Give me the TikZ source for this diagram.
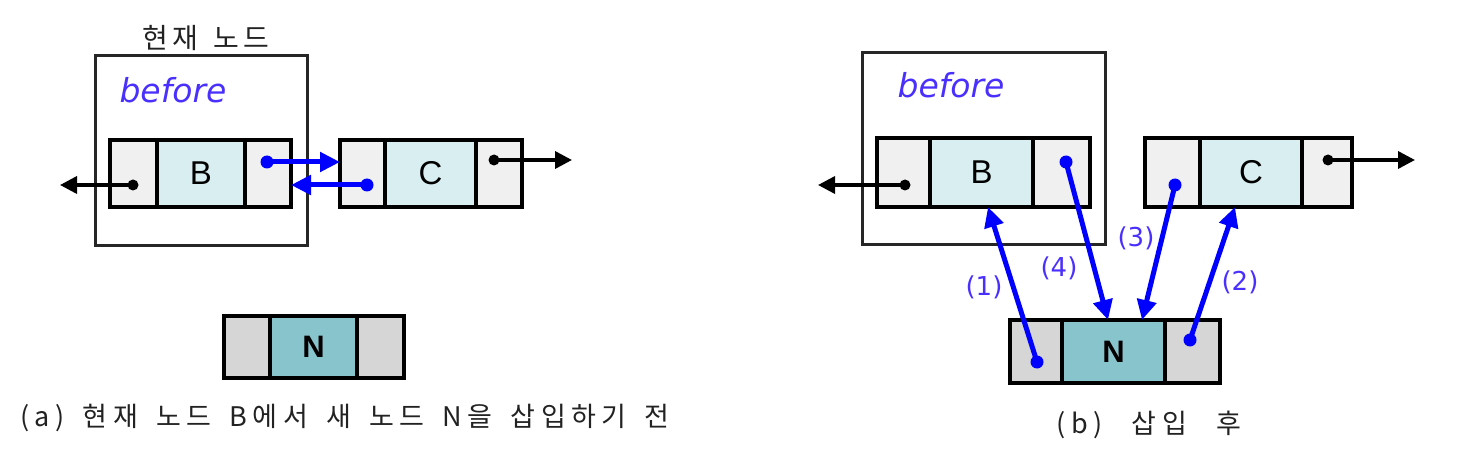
\documentclass[tikz,border=0pt]{standalone}
\usepackage{fontspec}
\setmainfont{Liberation Sans}
\newfontfamily\krfont{Noto Sans CJK KR}[LetterSpace=20, WordSpace=1.6]
\newfontfamily\krtop{Noto Sans CJK KR}[LetterSpace=14, WordSpace=1.5]
\newfontfamily\hand{DejaVu Sans}
\usetikzlibrary{arrows.meta}
\definecolor{cellgray}{HTML}{F0F0F0}
\definecolor{cellcyan}{HTML}{D9EEF0}
\definecolor{ncyan}{HTML}{88C4CC}
\definecolor{ngray}{HTML}{D6D6D6}
\definecolor{lblue}{HTML}{4A30FF}
\definecolor{txtdark}{HTML}{222222}
\tikzset{
  cellbox/.style={draw=black, line width=4pt, inner sep=0pt, fill=cellgray},
  midbox/.style={cellbox, fill=cellcyan, font=\fontsize{33}{35}\selectfont},
  nside/.style={cellbox, fill=ngray},
  nmid/.style={cellbox, fill=ncyan, font=\bfseries\fontsize{31}{33}\selectfont},
  outerbox/.style={draw=black!85, line width=3pt},
  blkarrow/.style={line width=3.5pt, -{Triangle[length=17pt,width=17pt]}},
  bluarrow/.style={draw=blue, line width=5pt, -{Triangle[length=20pt,width=19pt]}},
  blkdot/.style={circle, fill=black, inner sep=0pt, minimum size=11pt},
  bludot/.style={circle, fill=blue, inner sep=0pt, minimum size=13pt},
  beforelbl/.style={text=lblue, font=\hand\itshape\fontsize{33}{35}\selectfont, inner sep=0pt},
  numlbl/.style={text=lblue, font=\hand\fontsize{26}{28}\selectfont, inner sep=0pt},
  krtext/.style={text=txtdark, font=\krfont\fontsize{27}{29}\selectfont, inner sep=0pt}
}
\begin{document}
\begin{tikzpicture}[x=1pt,y=-1pt]
\useasboundingbox (0,0) rectangle (1457,449);
% ---------- (a) ----------
\node[outerbox, minimum width=212pt, minimum height=190pt, inner sep=0pt] (boxa) at (201,151) {};
\node[krtext, font=\krtop\fontsize{28}{30}\selectfont] (cura) at (206,38) {현재 노드};
\node[beforelbl] (befa) at (173,90) {before};
\node[cellbox, minimum width=47pt, minimum height=67pt] (aBl) at (133.5,173.5) {};
\node[midbox, minimum width=88pt, minimum height=67pt] (aBm) at (201,173.5) {B};
\node[cellbox, minimum width=46pt, minimum height=67pt] (aBr) at (268,173.5) {};
\node[cellbox, minimum width=45pt, minimum height=67pt] (aCl) at (362.5,173.5) {};
\node[midbox, minimum width=91pt, minimum height=67pt] (aCm) at (430.5,173.5) {C};
\node[cellbox, minimum width=46pt, minimum height=67pt] (aCr) at (499,173.5) {};
\node[blkdot] (aBd) at (133,185) {};
\node[blkdot] (aCd) at (494,160) {};
\coordinate (aLt) at (60,185);
\coordinate (aRt) at (572,160);
\draw[blkarrow] (aBd.center) -- (aLt);
\draw[blkarrow] (aCd.center) -- (aRt);
\node[bludot] (aBrd) at (267,162) {};
\node[bludot] (aCld) at (367,185) {};
\coordinate (aCin) at (340,162);
\coordinate (aBin) at (291,185);
\draw[bluarrow] (aBrd.center) -- (aCin);
\draw[bluarrow] (aCld.center) -- (aBin);
\node[nside, minimum width=46pt, minimum height=62pt] (aNl) at (247,347) {};
\node[nmid, minimum width=87pt, minimum height=62pt] (aNm) at (313.5,347) {N};
\node[nside, minimum width=47pt, minimum height=62pt] (aNr) at (380.5,347) {};
\node[krtext] (capa) at (345,418) {(\textit{a}) 현재 노드 B에서 새 노드 N을 삽입하기 전};
% ---------- (b) ----------
\node[outerbox, minimum width=243pt, minimum height=192pt, inner sep=0pt] (boxb) at (983.5,149) {};
\node[beforelbl] (befb) at (951,85) {before};
\node[cellbox, minimum width=53pt, minimum height=69pt] (bBl) at (903.5,172.5) {};
\node[midbox, minimum width=103pt, minimum height=69pt] (bBm) at (981.5,172.5) {B};
\node[cellbox, minimum width=57pt, minimum height=69pt] (bBr) at (1061.5,172.5) {};
\node[cellbox, minimum width=55pt, minimum height=69pt] (bCl) at (1172.5,172.5) {};
\node[midbox, minimum width=102pt, minimum height=69pt] (bCm) at (1251,172.5) {C};
\node[cellbox, minimum width=50pt, minimum height=69pt] (bCr) at (1327,172.5) {};
\node[nside, minimum width=52pt, minimum height=63pt] (bNl) at (1036,351.5) {};
\node[nmid, minimum width=103pt, minimum height=63pt] (bNm) at (1113.5,351.5) {N};
\node[nside, minimum width=55pt, minimum height=63pt] (bNr) at (1192.5,351.5) {};
\node[blkdot] (bBd) at (905,185) {};
\node[blkdot] (bCd) at (1328,160) {};
\coordinate (bLt) at (818,185);
\coordinate (bRt) at (1415,160);
\draw[blkarrow] (bBd.center) -- (bLt);
\draw[blkarrow] (bCd.center) -- (bRt);
\node[bludot] (bNld) at (1037,362) {};
\node[bludot] (bNrd) at (1190,340) {};
\node[bludot] (bBrd) at (1066,162) {};
\node[bludot] (bCld) at (1175,185) {};
\coordinate (t1) at (988,207);
\coordinate (t4) at (1108,320);
\coordinate (t3) at (1142,320);
\coordinate (t2) at (1235,207);
\draw[bluarrow] (bNld.center) -- (t1);
\draw[bluarrow] (bBrd.center) -- (t4);
\draw[bluarrow] (bCld.center) -- (t3);
\draw[bluarrow] (bNrd.center) -- (t2);
\node[numlbl] (l1) at (984,287) {(1)};
\node[numlbl] (l4) at (1059,268) {(4)};
\node[numlbl] (l3) at (1136,238) {(3)};
\node[numlbl] (l2) at (1240,282) {(2)};
\node[krtext] (capb) at (1149,425) {(\textit{b}) 삽입 후};
\end{tikzpicture}
\end{document}
